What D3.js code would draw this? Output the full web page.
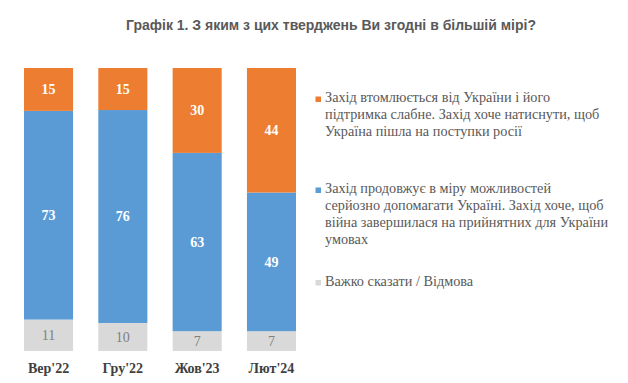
<!DOCTYPE html>
<html><head><meta charset="utf-8">
<script src="https://cdn.jsdelivr.net/npm/d3@7"></script>
<style>html,body{margin:0;padding:0;background:#fff;}svg{display:block;}</style>
</head><body>
<svg id="c" width="628" height="383"></svg>
<script>
const title = "Графік 1. З яким з цих тверджень Ви згодні в більшій мірі?";
const categories = ["Вер'22", "Гру'22", "Жов'23", "Лют'24"];
const seriesKeys = ["weary", "support", "hard"];
const weary = [15, 15, 30, 44];
const support = [73, 76, 63, 49];
const hard = [11, 10, 7, 7];
const legendLabels = [
  ["Захід втомлюється від України і його", "підтримка слабне. Захід хоче натиснути, щоб", "Україна пішла на поступки росії"],
  ["Захід продовжує в міру можливостей", "серйозно допомагати Україні. Захід хоче, щоб", "війна завершилася на прийнятних для України", "умовах"],
  ["Важко сказати / Відмова"]
];
const colors = {weary: "#ED7D31", support: "#5B9BD5", hard: "#D9D9D9"};
const labelColors = {weary: "#ffffff", support: "#ffffff", hard: "#7f7f7f"};

const rows = categories.map((c, i) => ({cat: c, hard: hard[i], support: support[i], weary: weary[i]}));
const stack = d3.stack().keys(["hard", "support", "weary"]).offset(d3.stackOffsetExpand);
const layers = stack(rows);

const svg = d3.select("#c");
const serif = "'Liberation Serif'";

svg.append("text").attr("x", 331).attr("y", 30).attr("text-anchor", "middle")
  .style("font-family", "'Liberation Sans'").attr("font-weight", "bold")
  .attr("font-size", 14).attr("fill", "#595959").text(title);

const x = d3.scaleBand().domain(categories).range([24, 296]).paddingInner(0.34).paddingOuter(0);
const y = d3.scaleLinear().domain([0, 1]).range([351, 68]);

const g = svg.append("g");
layers.forEach(layer => {
  const key = layer.key;
  const lg = g.append("g");
  lg.selectAll("rect").data(layer).join("rect")
    .attr("x", d => x(d.data.cat)).attr("width", x.bandwidth())
    .attr("y", d => y(d[1])).attr("height", d => y(d[0]) - y(d[1]))
    .attr("fill", colors[key]);
  lg.selectAll("text").data(layer).join("text")
    .attr("x", d => x(d.data.cat) + x.bandwidth() / 2)
    .attr("y", d => (y(d[0]) + y(d[1])) / 2)
    .attr("dy", "0.35em").attr("text-anchor", "middle")
    .style("font-family", serif).attr("font-size", 14)
    .attr("font-weight", key === "hard" ? "normal" : "bold")
    .attr("fill", labelColors[key])
    .text(d => d.data[key]);
});

const xAxis = svg.append("g").attr("transform", "translate(0,351)")
  .call(d3.axisBottom(x).tickSize(0).tickPadding(12));
xAxis.select(".domain").remove();
xAxis.attr("font-family", null);
xAxis.selectAll("text").style("font-family", serif).attr("font-size", 14)
  .attr("font-weight", "bold").attr("fill", "#404040");

const legendTop = [97.5, 188.5, 281];
const lineH = 17;
const leg = svg.append("g");
seriesKeys.forEach((k, i) => {
  leg.append("rect").attr("x", 315.5).attr("y", legendTop[i] - 1).attr("width", 5.5).attr("height", 5.5)
    .attr("fill", colors[k]);
  const t = leg.append("text").style("font-family", serif).attr("font-size", 14.25).attr("fill", "#595959");
  legendLabels[i].forEach((line, j) => {
    t.append("tspan").attr("x", 325).attr("y", legendTop[i] + j * lineH).attr("dy", "0.35em").text(line);
  });
});
</script>
</body></html>
